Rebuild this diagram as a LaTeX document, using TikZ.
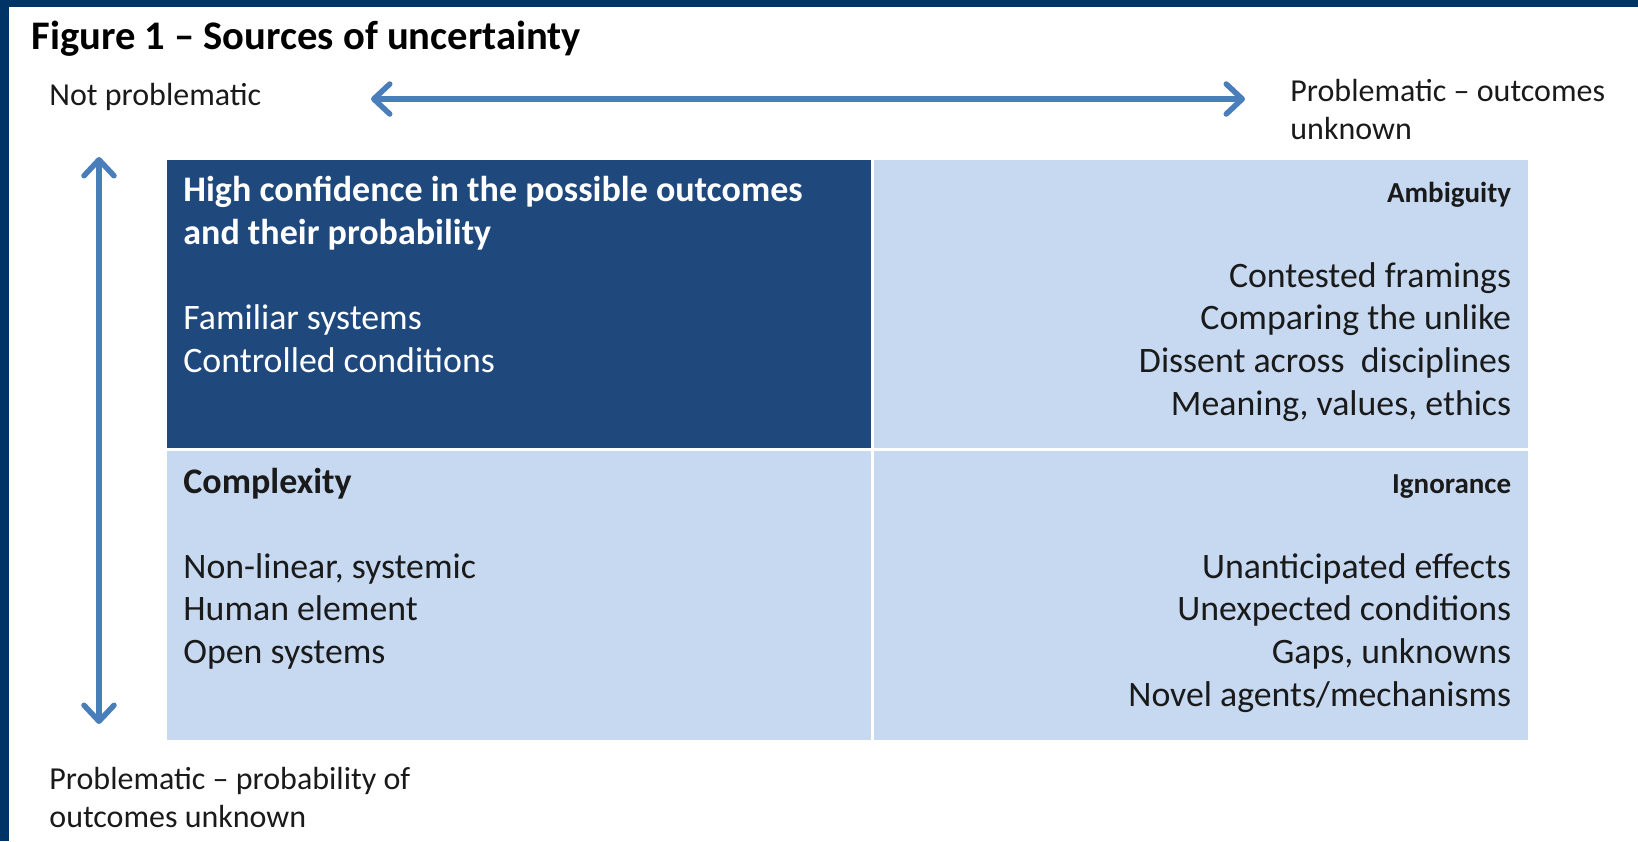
\documentclass[tikz,border=0pt]{standalone}
\usepackage{fontspec}
\setmainfont{Carlito}
\usetikzlibrary{arrows.meta}

\definecolor{framenavy}{RGB}{0,51,102}
\definecolor{darkcell}{RGB}{31,73,125}
\definecolor{lightcell}{RGB}{198,217,241}
\definecolor{axisblue}{RGB}{74,126,187}
\definecolor{inktext}{RGB}{26,26,26}

\newcommand{\cellhead}[2][18pt]{{\bfseries\fontsize{#1}{21.3pt}\selectfont #2}}

\begin{document}
\begin{tikzpicture}[x=0.5pt,y=-0.5pt,
  cell/.style={anchor=north west,inner sep=0,outer sep=0},
  celltext/.style={inner sep=0,text=inktext,font=\fontsize{17.9pt}{21.3pt}\selectfont},
  axislabel/.style={inner sep=0,anchor=base west,align=left,text=inktext,
    font=\fontsize{16pt}{19.3pt}\selectfont},
  axis/.style={{Straight Barb[round,length=8pt,width=15pt]}-{Straight Barb[round,length=8pt,width=15pt]},
    line width=2.75pt,draw=axisblue}]
\useasboundingbox (0,0) rectangle (1638,841);
% The frame
\fill[framenavy] (0,0) rectangle (1638,7);
\fill[framenavy] (0,0) rectangle (9,841);
% The title
\node[inner sep=0,anchor=base west,text=black,font=\bfseries\fontsize{20.3pt}{24pt}\selectfont]
  (title) at (31,49) {Figure 1 – Sources of uncertainty};

% The four cells
\node[cell,fill=darkcell,minimum width=351.75pt,minimum height=143.75pt] (known) at (167,160) {};
\node[cell,fill=lightcell,minimum width=327.25pt,minimum height=143.75pt] (ambig) at (873.5,160) {};
\node[cell,fill=lightcell,minimum width=351.75pt,minimum height=144.75pt] (complex) at (167,450.5) {};
\node[cell,fill=lightcell,minimum width=327.25pt,minimum height=144.75pt] (ignor) at (873.5,450.5) {};

% The texts in the cells (base = last line)
\node[celltext,anchor=base west,align=left,text=white] (knowntxt) at (183,372)
  {\cellhead{High confidence in the possible outcomes}\\\cellhead{and their probability}\\[21.3pt]
   Familiar systems\\Controlled conditions};
\node[celltext,anchor=base east,align=right] (ambigtxt) at (1511.5,415)
  {\cellhead[14.5pt]{Ambiguity}\\[21.3pt]Contested framings\\Comparing the unlike\\
   Dissent across~ disciplines\\Meaning, values, ethics};
\node[celltext,anchor=base west,align=left] (complextxt) at (183,663.4)
  {\cellhead{Complexity}\\[21.3pt]Non-linear, systemic\\Human element\\Open systems};
\node[celltext,anchor=base east,align=right] (ignortxt) at (1511.5,706)
  {\cellhead[14.5pt]{Ignorance}\\[21.3pt]Unanticipated effects\\Unexpected conditions\\
   Gaps, unknowns\\Novel agents/mechanisms};

% The axes
\coordinate (west) at (371,99);
\coordinate (east) at (1245,99);
\coordinate (north) at (99,157);
\coordinate (south) at (99,724);
\draw[axis] (west) -- (east);
\draw[axis] (north) -- (south);

% The axis labels
\node[axislabel] (calm) at (49,105.5) {Not problematic};
\node[axislabel] (outcomes) at (1290,139.6) {Problematic – outcomes\\unknown};
\node[axislabel] (probab) at (49,827.6) {Problematic – probability of\\outcomes unknown};
\end{tikzpicture}
\end{document}
